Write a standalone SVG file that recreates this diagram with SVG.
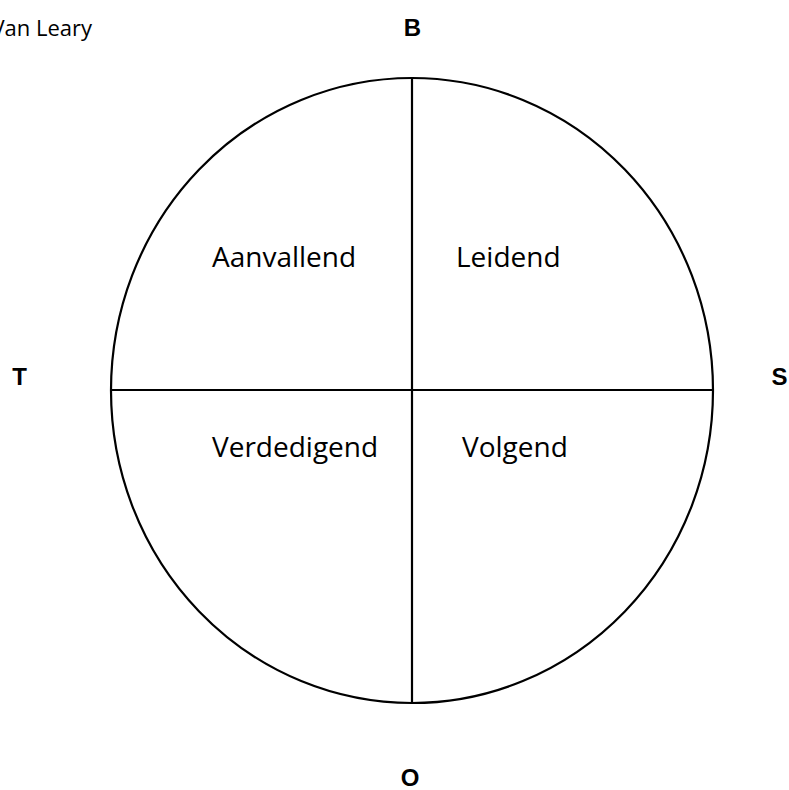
<svg xmlns="http://www.w3.org/2000/svg" width="789" height="790" viewBox="0 0 789 790">
<style>
.q{font-family:"Open Sans","Noto Sans",sans-serif;font-size:28px;fill:#000}
.ax{font-family:"Liberation Sans",Arial,sans-serif;font-weight:bold;font-size:24px;fill:#000;text-anchor:middle}
.ln{stroke:#000;stroke-width:2.2;fill:none}
</style>
<rect width="789" height="790" fill="#fff"/>
<text x="92" y="36" font-family="'Open Sans','Noto Sans',sans-serif" font-size="22" text-anchor="end">Van Leary</text>
<g id="circle">
<ellipse class="ln" cx="412" cy="390.5" rx="301" ry="312.5"/>
</g>
<g id="connectors">
<line class="ln" x1="412" y1="78" x2="412" y2="703"/>
<line class="ln" x1="111" y1="390" x2="713" y2="390" stroke-width="1.6"/>
</g>
<g id="q-aanvallend"><text class="q" x="212" y="267">Aanvallend</text></g>
<g id="q-leidend"><text class="q" x="456" y="267">Leidend</text></g>
<g id="q-verdedigend"><text class="q" x="212" y="457">Verdedigend</text></g>
<g id="q-volgend"><text class="q" x="462" y="457">Volgend</text></g>
<g id="axis-b"><text class="ax" x="412.5" y="36">B</text></g>
<g id="axis-t"><text class="ax" x="19.5" y="385">T</text></g>
<g id="axis-s"><text class="ax" x="779.5" y="385">S</text></g>
<g id="axis-o"><text class="ax" x="410" y="786">O</text></g>
</svg>
